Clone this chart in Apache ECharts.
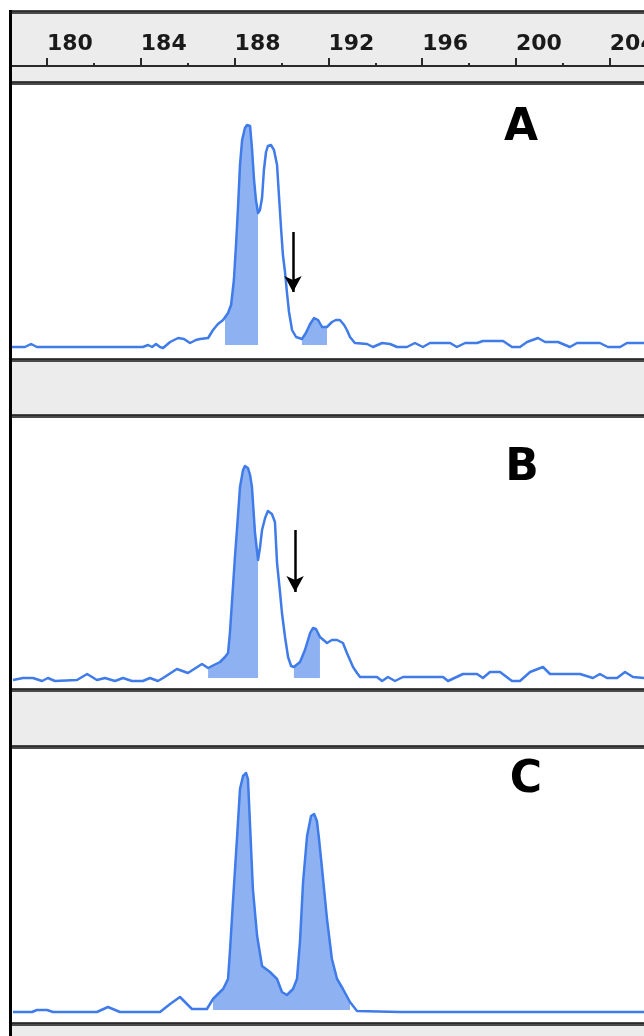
<!DOCTYPE html>
<html><head><meta charset="utf-8">
<script src="https://cdn.jsdelivr.net/npm/echarts@6/dist/echarts.min.js"></script>
<style>html,body{margin:0;padding:0;background:#fff}#c{width:644px;height:1036px}</style>
</head><body><div id="c"></div>
<script>
// ---- data (size in bp, relative fluorescence) ----
const sizeTicks = [176, 180, 184, 188, 192, 196, 200, 204, 208];
const panelLabels = ['A', 'B', 'C'];

const traceA = [[178.51,-2],[179.06,-2],[179.32,1],[179.57,-2],[180.55,-2],[182.26,-2],[184.09,-2],[184.31,0],[184.48,-2],[184.65,1],[184.82,-2],[184.95,-3],[185.25,3],[185.59,7],[185.84,6],[186.10,2],[186.35,5],[186.52,6],[186.87,7],[187.08,15],[187.29,21],[187.51,25],[187.59,27],[187.72,32],[187.85,40],[187.97,65],[188.06,100],[188.14,135],[188.23,180],[188.32,205],[188.44,217],[188.53,220],[188.66,219],[188.74,197],[188.83,165],[188.91,145],[189.00,132],[189.08,135],[189.17,147],[189.25,175],[189.34,193],[189.42,199],[189.55,200],[189.68,195],[189.81,180],[189.89,150],[189.98,117],[190.06,90],[190.15,73],[190.23,53],[190.32,33],[190.45,15],[190.62,8],[190.87,6],[191.04,12],[191.22,21],[191.39,27],[191.56,25],[191.73,18],[191.94,18],[192.15,23],[192.32,25],[192.49,25],[192.67,20],[192.79,15],[192.92,8],[193.13,2],[193.65,1],[193.90,-2],[194.29,2],[194.63,1],[194.93,-2],[195.35,-2],[195.69,2],[196.03,-2],[196.33,2],[197.19,2],[197.48,-2],[197.83,2],[198.34,2],[198.59,4],[199.45,4],[199.83,-2],[200.17,-2],[200.47,3],[200.94,7],[201.24,3],[201.79,3],[202.30,-2],[202.60,2],[203.58,2],[203.92,-2],[204.44,-2],[204.73,2],[205.46,2]];

const traceB = [[178.55,-2],[178.98,0],[179.40,0],[179.79,-3],[180.04,0],[180.34,-3],[181.28,-2],[181.71,4],[182.13,-2],[182.47,0],[182.90,-3],[183.24,0],[183.62,-3],[184.09,-3],[184.39,0],[184.73,-3],[184.95,0],[185.54,9],[186.01,5],[186.61,14],[186.87,10],[187.12,13],[187.38,16],[187.59,21],[187.72,25],[187.80,45],[187.93,91],[188.02,123],[188.10,148],[188.23,191],[188.36,208],[188.44,212],[188.57,210],[188.66,203],[188.74,191],[188.87,145],[189.00,118],[189.08,130],[189.17,148],[189.30,160],[189.42,167],[189.59,164],[189.72,156],[189.81,115],[189.94,85],[190.02,65],[190.15,41],[190.28,21],[190.41,12],[190.53,11],[190.79,16],[191.00,28],[191.22,45],[191.34,50],[191.47,49],[191.64,41],[191.94,35],[192.15,38],[192.37,38],[192.62,35],[192.79,25],[192.92,18],[193.05,11],[193.22,5],[193.35,1],[194.07,1],[194.29,-3],[194.54,1],[194.84,-3],[195.18,1],[196.89,1],[197.10,-3],[197.74,4],[198.34,4],[198.59,0],[198.89,6],[199.32,6],[199.83,-3],[200.17,-3],[200.60,6],[201.15,11],[201.45,4],[202.73,4],[203.28,0],[203.58,4],[203.88,0],[204.31,0],[204.65,6],[204.99,1],[205.46,0]];

const traceC = [[178.55,-2],[179.36,-2],[179.57,0],[180.00,0],[180.26,-2],[182.13,-2],[182.60,3],[183.11,-2],[184.82,-2],[185.25,6],[185.67,13],[186.18,1],[186.82,1],[187.08,11],[187.29,16],[187.51,21],[187.72,31],[187.80,58],[187.93,108],[188.10,171],[188.23,221],[188.36,234],[188.49,237],[188.57,231],[188.66,184],[188.78,121],[188.96,74],[189.17,44],[189.51,38],[189.81,31],[190.02,18],[190.23,15],[190.49,21],[190.66,31],[190.79,69],[190.92,128],[191.09,174],[191.26,194],[191.39,196],[191.51,189],[191.60,171],[191.73,141],[191.94,91],[192.15,51],[192.37,31],[192.62,21],[192.92,8],[193.22,-1],[195.05,-2],[205.46,-2]];

// shaded (called) regions, bp ranges
const fillRangesA = [[187.58, 189.0], [190.86, 191.95]];
const fillRangesB = [[186.86, 189.0], [190.50, 191.65]];
const fillRangesC = [[187.05, 193.1]];

// arrows: [size, fromValue, toValue]
const arrowA = [190.49, 113, 53];
const arrowB = [190.58, 148, 86];

// ---- layout ----
const PX180 = 47, PXBP = 23.45, AX_MIN = 176, AX_MAX = 208;
const gridLeft = PX180 - (180 - AX_MIN) * PXBP;
const gridWidth = (AX_MAX - AX_MIN) * PXBP;
const LINE = '#3f7be9', FILL = '#8eb1f1';

const panels = [
  {trace: traceA, fills: fillRangesA, arrow: arrowA, top: 85, height: 273, min: -13, max: 260, label: {x: 521, y: 129}},
  {trace: traceB, fills: fillRangesB, arrow: arrowB, top: 418, height: 272, min: -12, max: 260, label: {x: 522, y: 469}},
  {trace: traceC, fills: fillRangesC, arrow: null, top: 749, height: 274, min: -13, max: 261, label: {x: 526, y: 781}}
];

function fillData(trace, ranges) {
  return trace.map(p => ranges.some(r => p[0] >= r[0] && p[0] <= r[1]) ? p : [p[0], '-']);
}

const grids = [{left: gridLeft, width: gridWidth, top: 20, height: 46, outerBoundsMode: 'none', containLabel: false}];
const xAxes = [{
  gridIndex: 0, type: 'value', min: AX_MIN, max: AX_MAX, interval: 4,
  axisLine: {show: true, onZero: false, lineStyle: {color: '#2a2a2a', width: 2}},
  axisTick: {show: true, inside: true, length: 8, lineStyle: {color: '#2a2a2a', width: 2}},
  minorTick: {show: true, splitNumber: 2, length: 3, lineStyle: {color: '#2a2a2a', width: 2}},
  splitLine: {show: false},
  axisLabel: {show: true, inside: true, align: 'left', margin: 11, color: '#1a1a1a',
    fontFamily: 'DejaVu Sans', fontWeight: 'bold', fontSize: 22,
    formatter: v => sizeTicks.includes(v) ? String(v) : ''}
}];
const yAxes = [{gridIndex: 0, type: 'value', show: false, min: 0, max: 1}];
const series = [{type: 'line', xAxisIndex: 0, yAxisIndex: 0, data: [], silent: true}];

panels.forEach((p, i) => {
  const g = i + 1;
  grids.push({left: gridLeft, width: gridWidth, top: p.top, height: p.height, outerBoundsMode: 'none', containLabel: false});
  xAxes.push({gridIndex: g, type: 'value', min: AX_MIN, max: AX_MAX, show: false});
  yAxes.push({gridIndex: g, type: 'value', min: p.min, max: p.max, show: false});
  series.push({
    type: 'line', xAxisIndex: g, yAxisIndex: g, data: fillData(p.trace, p.fills),
    symbol: 'none', connectNulls: false, silent: true, z: 2,
    lineStyle: {width: 0, color: FILL}, areaStyle: {color: FILL, opacity: 1, origin: 0}
  });
  const s = {
    type: 'line', xAxisIndex: g, yAxisIndex: g, data: p.trace, symbol: 'none', silent: true, z: 3,
    lineStyle: {color: LINE, width: 2.5, join: 'round'}
  };
  if (p.arrow) {
    s.markLine = {
      silent: true, symbol: ['none', 'arrow'], symbolSize: [13, 16], animation: false,
      lineStyle: {color: '#000', width: 2.5, type: 'solid'}, label: {show: false},
      data: [[{coord: [p.arrow[0], p.arrow[1]]}, {coord: [p.arrow[0], p.arrow[2]]}]]
    };
  }
  series.push(s);
});

// frame decoration
const bands = [];
function rect(x, y, w, h, fill, z) { bands.push({type: 'rect', shape: {x, y, width: w, height: h}, style: {fill}, z: z || 0, silent: true}); }
function dark(y) { rect(10, y, 634, 4, '#4a4a4a', 0); rect(10, y + 1, 634, 1, '#2a2a2a', 0); }
rect(12, 14, 632, 67, '#ececec');
rect(12, 362, 632, 52, '#ececec');
rect(12, 692, 632, 53, '#ececec');
rect(12, 1026, 632, 10, '#ececec');
dark(10); dark(81); dark(358); dark(414); dark(688); dark(745); dark(1022);
rect(0, 0, 9, 1036, '#fff', 100);
rect(0, 0, 644, 10, '#fff', 100);
rect(9, 10, 3, 1026, '#000', 101);
panels.forEach((p, i) => bands.push({
  type: 'text', z: 50, silent: true,
  style: {text: panelLabels[i], x: p.label.x, y: p.label.y, textAlign: 'center', textVerticalAlign: 'middle',
    font: 'bold 44px "DejaVu Sans"', fill: '#000'}
}));

const chart = echarts.init(document.getElementById('c'), null, {renderer: 'canvas'});
chart.setOption({
  animation: false, backgroundColor: '#fff',
  grid: grids, xAxis: xAxes, yAxis: yAxes, series, graphic: {elements: bands}
});
</script></body></html>
